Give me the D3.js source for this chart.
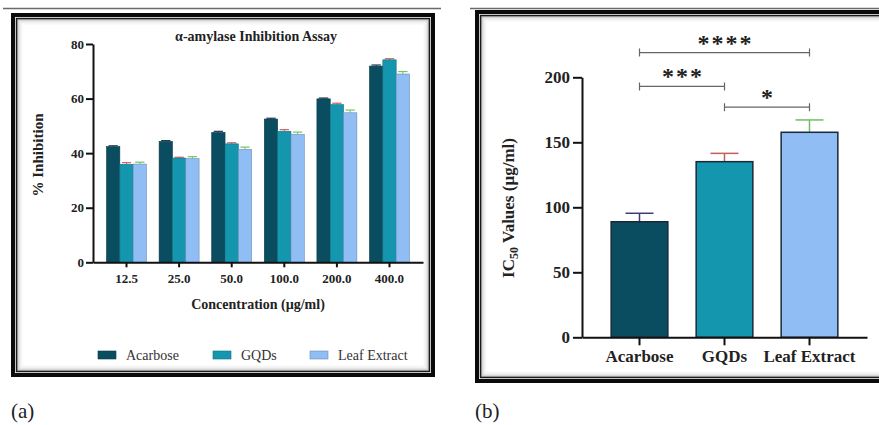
<!DOCTYPE html>
<html>
<head>
<meta charset="utf-8">
<script src="https://cdn.jsdelivr.net/npm/d3@7"></script>
<style>
  body { margin: 0; background: #fff; }
  svg { display: block; font-family: "Liberation Serif", "DejaVu Serif", serif; }
  .axis path, .axis line { stroke: #111; stroke-width: 2px; }
  .axis text { font-weight: bold; fill: #222; font-family: "Liberation Serif", "DejaVu Serif", serif; }
</style>
</head>
<body>
<svg id="chart" width="879" height="425"></svg>
<script>
// panel (a) data
const concentrations = ["12.5", "25.0", "50.0", "100.0", "200.0", "400.0"];
const seriesNames = ["Acarbose", "GQDs", "Leaf Extract"];
const acarbose = [42.4, 44.3, 47.6, 52.5, 59.9, 71.9];
const gqds = [35.9, 38.2, 43.4, 48.0, 57.8, 74.2];
const leafExtract = [36.0, 38.0, 41.4, 46.9, 54.8, 69.0];
const acarboseErr = [0.3, 0.3, 0.4, 0.3, 0.3, 0.4];
const gqdsErr = [0.6, 0.3, 0.4, 0.6, 0.5, 0.4];
const leafErr = [0.7, 0.7, 0.8, 0.8, 1.0, 0.9];
const inhibitionTicks = [0, 20, 40, 60, 80];

// panel (b) data
const ic50Groups = ["Acarbose", "GQDs", "Leaf Extract"];
const ic50Values = [88.9, 135.1, 157.7];
const ic50Err = [6.5, 6.4, 9.5];
const ic50Ticks = [0, 50, 100, 150, 200];
const sigPairs = [
  { from: "Acarbose", to: "Leaf Extract", label: "****", level: 219 },
  { from: "Acarbose", to: "GQDs", label: "***", level: 193 },
  { from: "GQDs", to: "Leaf Extract", label: "*", level: 177 }
];

const fills = ["#0b4d60", "#1496ae", "#8fbdf4"];
const errColors = ["#23364e", "#c4605c", "#74c267"];
const errColorsB = ["#3c3a72", "#c4605c", "#6cc060"];

const svg = d3.select("#chart");

// separating lines on top
svg.append("line").attr("x1", 3).attr("x2", 441).attr("y1", 8.5).attr("y2", 8.5)
  .attr("stroke", "#6a6a6a").attr("stroke-width", 1.5);
svg.append("line").attr("x1", 470).attr("x2", 879).attr("y1", 8.5).attr("y2", 8.5)
  .attr("stroke", "#6a6a6a").attr("stroke-width", 1.5);

// framed box with a soft inner shadow
function frame(x, y, w, h) {
  const g = svg.append("g");
  const shades = ["#8a8a8a", "#b4b4b4", "#d2d2d2", "#e4e4e4", "#efefef", "#f6f6f6"];
  shades.forEach((c, i) => {
    g.append("rect").attr("x", x + 6 + i).attr("y", y + 6 + i)
      .attr("width", w - 12 - 2 * i).attr("height", h - 12 - 2 * i)
      .attr("fill", "none").attr("stroke", c).attr("stroke-width", 1);
  });
  g.append("rect").attr("x", x + 2).attr("y", y + 2).attr("width", w - 4).attr("height", h - 4)
    .attr("fill", "none").attr("stroke", "#0a0a0a").attr("stroke-width", 4);
  g.append("rect").attr("x", x + 5.5).attr("y", y + 5.5).attr("width", w - 11).attr("height", h - 11)
    .attr("fill", "none").attr("stroke", "#1a1a1a").attr("stroke-width", 1.5);
}

frame(11, 13, 424, 364);
frame(475, 10, 420, 373);

// ---------- panel (a) ----------
const xA = d3.scaleBand().domain(concentrations).range([93, 423])
  .paddingInner(0.24).paddingOuter(0.257);
const xSub = d3.scaleBand().domain(seriesNames).range([0, xA.bandwidth()]);
const yA = d3.scaleLinear().domain([0, 80]).range([262.3, 44]);

const seriesVals = [acarbose, gqds, leafExtract];
const seriesErr = [acarboseErr, gqdsErr, leafErr];

const gA = svg.append("g");
seriesNames.forEach((name, si) => {
  const rows = concentrations.map((c, i) => ({ c, v: seriesVals[si][i], e: seriesErr[si][i] }));
  const sg = gA.append("g");
  sg.selectAll("line.err").data(rows).join("line").attr("class", "err")
    .attr("x1", d => xA(d.c) + xSub(name) + xSub.bandwidth() / 2)
    .attr("x2", d => xA(d.c) + xSub(name) + xSub.bandwidth() / 2)
    .attr("y1", d => yA(d.v)).attr("y2", d => yA(d.v + d.e))
    .attr("stroke", errColors[si]).attr("stroke-width", 1);
  sg.selectAll("line.cap").data(rows).join("line").attr("class", "cap")
    .attr("x1", d => xA(d.c) + xSub(name) + 2)
    .attr("x2", d => xA(d.c) + xSub(name) + xSub.bandwidth() - 2)
    .attr("y1", d => yA(d.v + d.e)).attr("y2", d => yA(d.v + d.e))
    .attr("stroke", errColors[si]).attr("stroke-width", 1.2);
  sg.selectAll("rect").data(rows).join("rect")
    .attr("x", d => xA(d.c) + xSub(name))
    .attr("y", d => yA(d.v))
    .attr("width", xSub.bandwidth())
    .attr("height", d => yA(0) - yA(d.v))
    .attr("fill", fills[si])
    .attr("stroke", d3.color(fills[si]).darker(0.8)).attr("stroke-width", 0.6);
});

gA.append("g").attr("class", "axis").attr("transform", "translate(93,0)")
  .call(d3.axisLeft(yA).tickValues(inhibitionTicks).tickSize(7).tickSizeOuter(0).tickPadding(2))
  .call(g => g.attr("font-family", null).selectAll("text").style("font-size", "13px"));
gA.append("g").attr("class", "axis").attr("transform", `translate(0,${yA(0)})`)
  .call(d3.axisBottom(xA).tickSize(5).tickSizeOuter(0).tickPadding(6))
  .call(g => g.attr("font-family", null).selectAll("text").style("font-size", "13px"));

gA.append("text").attr("x", 256).attr("y", 41).attr("text-anchor", "middle")
  .style("font-size", "14px").style("font-weight", "bold").attr("fill", "#222")
  .text("α-amylase Inhibition Assay");
gA.append("text").attr("transform", "translate(43,155) rotate(-90)").attr("text-anchor", "middle")
  .style("font-size", "15px").style("font-weight", "bold").attr("fill", "#222")
  .text("% Inhibition");
gA.append("text").attr("x", 258).attr("y", 309).attr("text-anchor", "middle")
  .style("font-size", "14px").style("font-weight", "bold").attr("fill", "#222")
  .text("Concentration (µg/ml)");

// legend
const legendX = [98, 213, 310];
const legend = gA.selectAll("g.legend").data(seriesNames).join("g").attr("class", "legend")
  .attr("transform", (d, i) => `translate(${legendX[i]},351)`);
legend.append("rect").attr("width", 18).attr("height", 8)
  .attr("fill", (d, i) => fills[i]).attr("stroke", (d, i) => d3.color(fills[i]).darker(0.8)).attr("stroke-width", 0.6);
legend.append("text").attr("x", 28).attr("y", 9)
  .style("font-size", "14px").attr("fill", "#333").text(d => d);

svg.append("text").attr("x", 11).attr("y", 418).style("font-size", "21px").attr("fill", "#222").text("(a)");

// ---------- panel (b) ----------
const xB = d3.scaleBand().domain(ic50Groups).range([582, 867])
  .paddingInner(0.333).paddingOuter(0.343);
const yB = d3.scaleLinear().domain([0, 200]).range([337.3, 77.3]);
const rowsB = ic50Groups.map((g, i) => ({ g, v: ic50Values[i], e: ic50Err[i], i }));
const cx = g => xB(g) + xB.bandwidth() / 2;

const gB = svg.append("g");
gB.selectAll("line.err").data(rowsB).join("line").attr("class", "err")
  .attr("x1", d => cx(d.g)).attr("x2", d => cx(d.g))
  .attr("y1", d => yB(d.v)).attr("y2", d => yB(d.v + d.e))
  .attr("stroke", d => errColorsB[d.i]).attr("stroke-width", 1.5);
gB.selectAll("line.cap").data(rowsB).join("line").attr("class", "cap")
  .attr("x1", d => cx(d.g) - 14).attr("x2", d => cx(d.g) + 14)
  .attr("y1", d => yB(d.v + d.e)).attr("y2", d => yB(d.v + d.e))
  .attr("stroke", d => errColorsB[d.i]).attr("stroke-width", 1.5);
gB.selectAll("rect").data(rowsB).join("rect")
  .attr("x", d => xB(d.g)).attr("y", d => yB(d.v))
  .attr("width", xB.bandwidth()).attr("height", d => yB(0) - yB(d.v))
  .attr("fill", d => fills[d.i]).attr("stroke", "#1b2838").attr("stroke-width", 1.5);

gB.append("g").attr("class", "axis").attr("transform", "translate(582,0)")
  .call(d3.axisLeft(yB).tickValues(ic50Ticks).tickSize(9).tickSizeOuter(0).tickPadding(3))
  .call(g => g.attr("font-family", null).selectAll("text").style("font-size", "17px"));
gB.append("g").attr("class", "axis").attr("transform", `translate(0,${yB(0)})`)
  .call(d3.axisBottom(xB).tickSize(8).tickSizeOuter(0).tickPadding(5))
  .call(g => g.attr("font-family", null).selectAll("text").style("font-size", "17px"));

const yTitle = gB.append("text").attr("transform", "translate(514,208) rotate(-90)")
  .attr("text-anchor", "middle").style("font-size", "17px").style("font-weight", "bold").attr("fill", "#222");
yTitle.append("tspan").text("IC");
yTitle.append("tspan").attr("dy", 4).style("font-size", "12px").text("50");
yTitle.append("tspan").attr("dy", -4).text(" Values (µg/ml)");

// significance brackets
const sig = gB.selectAll("g.sig").data(sigPairs).join("g").attr("class", "sig");
sig.append("path")
  .attr("d", d => {
    const x1 = cx(d.from), x2 = cx(d.to), y = yB(d.level);
    return `M${x1},${y - 4}V${y + 4}M${x1},${y}H${x2}M${x2},${y - 4}V${y + 4}`;
  })
  .attr("fill", "none").attr("stroke", "#666").attr("stroke-width", 1.2);
sig.append("text")
  .attr("x", d => (cx(d.from) + cx(d.to)) / 2 + 1)
  .attr("y", d => yB(d.level) - 2)
  .attr("text-anchor", "middle")
  .style("font-size", "24px").style("font-weight", "bold").style("letter-spacing", "2px")
  .attr("fill", "#222").text(d => d.label);

svg.append("text").attr("x", 475).attr("y", 418).style("font-size", "21px").attr("fill", "#222").text("(b)");
</script>
</body>
</html>
